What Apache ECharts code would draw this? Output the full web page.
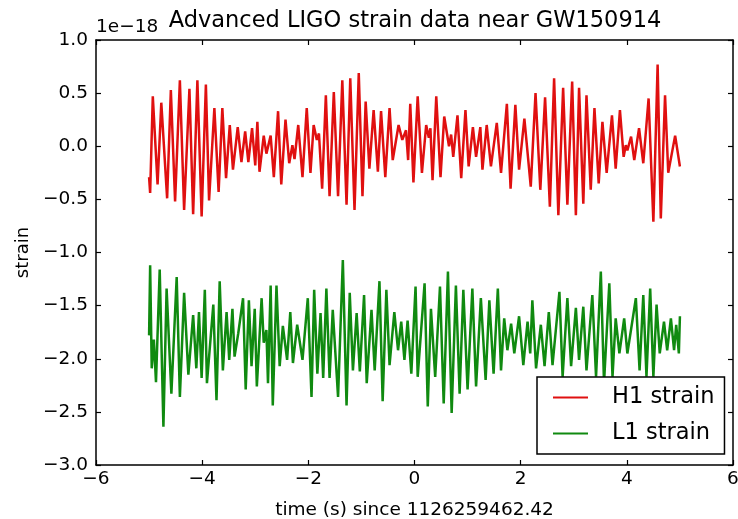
<!DOCTYPE html>
<html>
<head>
<meta charset="utf-8">
<script src="https://cdn.jsdelivr.net/npm/echarts@6/dist/echarts.min.js"></script>
<style>
    * {margin: 0; padding: 0;}
    body {background: #fff;}
    #main {width: 738px; height: 519px;}
</style>
</head>
<body>
<div id="main"></div>
<script>
// 时间 (s)，相对 1126259462.42
const H1_TIME = [
    -5.00, -4.98, -4.93, -4.84, -4.77, -4.66, -4.59, -4.51, -4.42, -4.34,
    -4.24, -4.17, -4.09, -4.01, -3.93, -3.87, -3.77, -3.69, -3.62, -3.55,
    -3.48, -3.42, -3.33, -3.26, -3.19, -3.13, -3.06, -3.00, -2.96, -2.92,
    -2.84, -2.79, -2.71, -2.65, -2.57, -2.51, -2.43, -2.36, -2.30, -2.26,
    -2.19, -2.11, -2.03, -1.96, -1.90, -1.84, -1.80, -1.74, -1.67, -1.60,
    -1.52, -1.44, -1.36, -1.28, -1.21, -1.13, -1.05, -0.98, -0.92, -0.85,
    -0.77, -0.69, -0.63, -0.55, -0.47, -0.41, -0.30, -0.23, -0.16, -0.12,
    -0.08, -0.02, 0.06, 0.14, 0.22, 0.27, 0.30, 0.34, 0.41, 0.49,
    0.56, 0.65, 0.69, 0.73, 0.81, 0.88, 0.96, 1.02, 1.10, 1.16,
    1.24, 1.28, 1.36, 1.44, 1.55, 1.63, 1.74, 1.81, 1.90, 1.97,
    2.07, 2.19, 2.28, 2.37, 2.46, 2.55, 2.63, 2.71, 2.80, 2.88,
    2.97, 3.04, 3.10, 3.18, 3.24, 3.32, 3.39, 3.47, 3.54, 3.62,
    3.72, 3.79, 3.87, 3.94, 3.98, 4.01, 4.08, 4.14, 4.23, 4.31,
    4.41, 4.50, 4.58, 4.64, 4.72, 4.78, 4.91, 5.00
];
// H1 应变 (1e-18)
const H1_STRAIN = [
    -0.29, -0.44, 0.47, -0.36, 0.41, -0.49, 0.53, -0.52, 0.62, -0.60,
    0.54, -0.64, 0.62, -0.66, 0.58, -0.51, 0.36, -0.43, 0.36, -0.30,
    0.20, -0.22, 0.18, -0.15, 0.14, -0.15, 0.17, -0.18, 0.23, -0.24,
    0.10, -0.07, 0.10, -0.29, 0.33, -0.36, 0.25, -0.16, 0.01, -0.12,
    0.20, -0.29, 0.36, -0.25, 0.20, 0.06, 0.12, -0.40, 0.48, -0.47,
    0.51, -0.47, 0.62, -0.55, 0.64, -0.60, 0.69, -0.47, 0.42, -0.21,
    0.34, -0.24, 0.33, -0.29, 0.36, -0.13, 0.20, 0.06, 0.15, -0.13,
    0.40, -0.34, 0.47, -0.25, 0.20, 0.08, 0.17, -0.32, 0.47, -0.29,
    0.28, 0.00, 0.11, -0.10, 0.29, -0.30, 0.34, -0.19, 0.18, -0.10,
    0.18, -0.22, 0.20, -0.19, 0.22, -0.25, 0.40, -0.40, 0.39, -0.22,
    0.26, -0.38, 0.50, -0.41, 0.46, -0.57, 0.64, -0.65, 0.55, -0.55,
    0.61, -0.65, 0.55, -0.54, 0.48, -0.41, 0.36, -0.35, 0.23, -0.25,
    0.29, -0.21, 0.34, -0.10, 0.01, -0.04, 0.09, -0.13, 0.17, -0.16,
    0.45, -0.71, 0.77, -0.68, 0.48, -0.25, 0.10, -0.19
];

const L1_TIME = [
    -5.00, -4.98, -4.95, -4.91, -4.87, -4.80, -4.73, -4.67, -4.58, -4.48,
    -4.42, -4.34, -4.26, -4.17, -4.11, -4.06, -4.01, -3.95, -3.91, -3.79,
    -3.73, -3.67, -3.61, -3.54, -3.49, -3.43, -3.39, -3.32, -3.23, -3.18,
    -3.12, -3.07, -3.01, -2.97, -2.88, -2.84, -2.79, -2.76, -2.71, -2.67,
    -2.60, -2.54, -2.48, -2.40, -2.34, -2.29, -2.21, -2.11, -2.01, -1.94,
    -1.89, -1.83, -1.77, -1.72, -1.66, -1.60, -1.54, -1.44, -1.35, -1.28,
    -1.22, -1.16, -1.09, -1.03, -0.95, -0.90, -0.81, -0.75, -0.66, -0.60,
    -0.53, -0.47, -0.38, -0.31, -0.25, -0.19, -0.13, -0.06, 0.02, 0.06,
    0.19, 0.25, 0.31, 0.39, 0.48, 0.55, 0.63, 0.70, 0.78, 0.85,
    0.92, 1.00, 1.09, 1.16, 1.25, 1.34, 1.41, 1.49, 1.57, 1.63,
    1.69, 1.75, 1.82, 1.88, 1.97, 2.05, 2.13, 2.18, 2.22, 2.29,
    2.38, 2.45, 2.53, 2.60, 2.73, 2.79, 2.88, 2.95, 3.04, 3.10,
    3.18, 3.24, 3.35, 3.42, 3.51, 3.57, 3.67, 3.73, 3.79, 3.86,
    3.95, 4.01, 4.17, 4.24, 4.31, 4.37, 4.44, 4.50, 4.56, 4.62,
    4.70, 4.76, 4.83, 4.89, 4.93, 4.98, 5.00
];
// L1 应变 (1e-18, 已下移)
const L1_STRAIN = [
    -1.78, -1.12, -2.09, -1.82, -2.22, -1.16, -2.64, -1.34, -2.33, -1.23,
    -2.36, -1.38, -2.15, -1.59, -2.09, -1.56, -2.18, -1.35, -2.23, -1.49,
    -2.39, -1.27, -2.11, -1.56, -2.01, -1.53, -1.98, -1.76, -1.43, -2.29,
    -1.45, -2.07, -1.53, -2.26, -1.43, -1.85, -1.73, -2.23, -1.31, -2.44,
    -1.31, -2.07, -1.69, -2.01, -1.56, -2.04, -1.68, -2.01, -1.43, -2.36,
    -1.35, -2.14, -1.57, -2.18, -1.34, -2.18, -1.54, -2.36, -1.07, -2.44,
    -1.38, -2.11, -1.57, -2.12, -1.40, -2.23, -1.54, -2.11, -1.27, -2.40,
    -1.35, -2.06, -1.56, -1.92, -1.65, -2.01, -1.64, -2.14, -1.32, -2.17,
    -1.29, -2.45, -1.53, -2.17, -1.32, -2.42, -1.18, -2.51, -1.31, -2.33,
    -1.35, -2.29, -1.34, -2.26, -1.43, -2.20, -1.45, -2.14, -1.34, -2.11,
    -1.62, -1.92, -1.67, -1.95, -1.60, -2.06, -1.65, -1.95, -1.45, -2.09,
    -1.68, -2.07, -1.56, -2.06, -1.37, -2.17, -1.43, -2.07, -1.52, -2.01,
    -1.51, -2.11, -1.40, -2.17, -1.18, -2.23, -1.29, -2.17, -1.62, -1.95,
    -1.62, -1.95, -1.43, -2.11, -1.40, -2.17, -1.34, -2.17, -1.49, -1.95,
    -1.65, -1.92, -1.62, -1.92, -1.68, -1.95, -1.60
];

const SERIES_NAMES = ['H1 strain', 'L1 strain'];
const X_RANGE = [-6, 6, 2];
const Y_RANGE = [-3, 1, 0.5];

const FONT = '"DejaVu Sans", sans-serif';
const MINUS = '\u2212';

function zip(xs, ys) {
    return xs.map((x, i) => [x, ys[i]]);
}

function fmt(digits) {
    return v => v.toFixed(digits).replace('-', MINUS);
}

function boxAxis(pos, range, showLabel, fmtFn) {
    return {
        type: 'value',
        position: pos,
        min: range[0],
        max: range[1],
        interval: range[2],
        axisLine: {show: true, onZero: false, lineStyle: {color: '#000', width: 1.5}},
        axisTick: {show: true, inside: true, length: 5, lineStyle: {color: '#000', width: 1.2}},
        axisLabel: {
            show: showLabel,
            color: '#000',
            fontFamily: FONT,
            fontSize: 18.5,
            margin: pos === 'bottom' ? 5 : 8,
            showMinLabel: true,
            showMaxLabel: true,
            formatter: fmtFn
        },
        splitLine: {show: false}
    };
}

const chart = echarts.init(document.getElementById('main'), null, {renderer: 'canvas'});

const xMain = Object.assign(boxAxis('bottom', X_RANGE, true, fmt(0)), {
    name: 'time (s) since 1126259462.42',
    nameLocation: 'middle',
    nameGap: 36,
    nameTextStyle: {color: '#000', fontFamily: FONT, fontSize: 18.5}
});
const yMain = Object.assign(boxAxis('left', Y_RANGE, true, fmt(1)), {
    name: 'strain',
    nameLocation: 'middle',
    nameGap: 63,
    nameTextStyle: {color: '#000', fontFamily: FONT, fontSize: 18}
});

chart.setOption({
    animation: false,
    backgroundColor: '#fff',
    grid: {left: 96, right: 5, top: 40, bottom: 54, outerBoundsMode: 'none', containLabel: false},
    xAxis: [xMain, boxAxis('top', X_RANGE, false)],
    yAxis: [yMain, boxAxis('right', Y_RANGE, false)],
    legend: {
        orient: 'vertical',
        left: 537,
        top: 377,
        data: SERIES_NAMES,
        icon: 'rect',
        backgroundColor: '#fff',
        borderColor: '#000',
        borderWidth: 1.5,
        borderRadius: 0,
        padding: [9, 10, 9, 16],
        itemGap: 13,
        itemWidth: 35,
        itemHeight: 2,
        textStyle: {color: '#000', fontFamily: FONT, fontSize: 22.5, padding: [0, 0, 0, 19]}
    },
    graphic: [
        {
            type: 'text',
            x: 415,
            y: 21,
            style: {
                text: 'Advanced LIGO strain data near GW150914',
                fill: '#000',
                font: '22.5px ' + FONT,
                align: 'center',
                verticalAlign: 'middle'
            }
        },
        {
            type: 'text',
            x: 96,
            y: 27,
            style: {
                text: '1e' + MINUS + '18',
                fill: '#000',
                font: '18.5px ' + FONT,
                align: 'left',
                verticalAlign: 'middle'
            }
        }
    ],
    series: [
        {
            name: SERIES_NAMES[0],
            type: 'line',
            data: zip(H1_TIME, H1_STRAIN),
            symbol: 'none',
            lineStyle: {color: '#e01010', width: 2.5},
            itemStyle: {color: '#e01010'}
        },
        {
            name: SERIES_NAMES[1],
            type: 'line',
            data: zip(L1_TIME, L1_STRAIN),
            symbol: 'none',
            lineStyle: {color: '#108a10', width: 2.5},
            itemStyle: {color: '#108a10'}
        }
    ]
});
</script>
</body>
</html>
